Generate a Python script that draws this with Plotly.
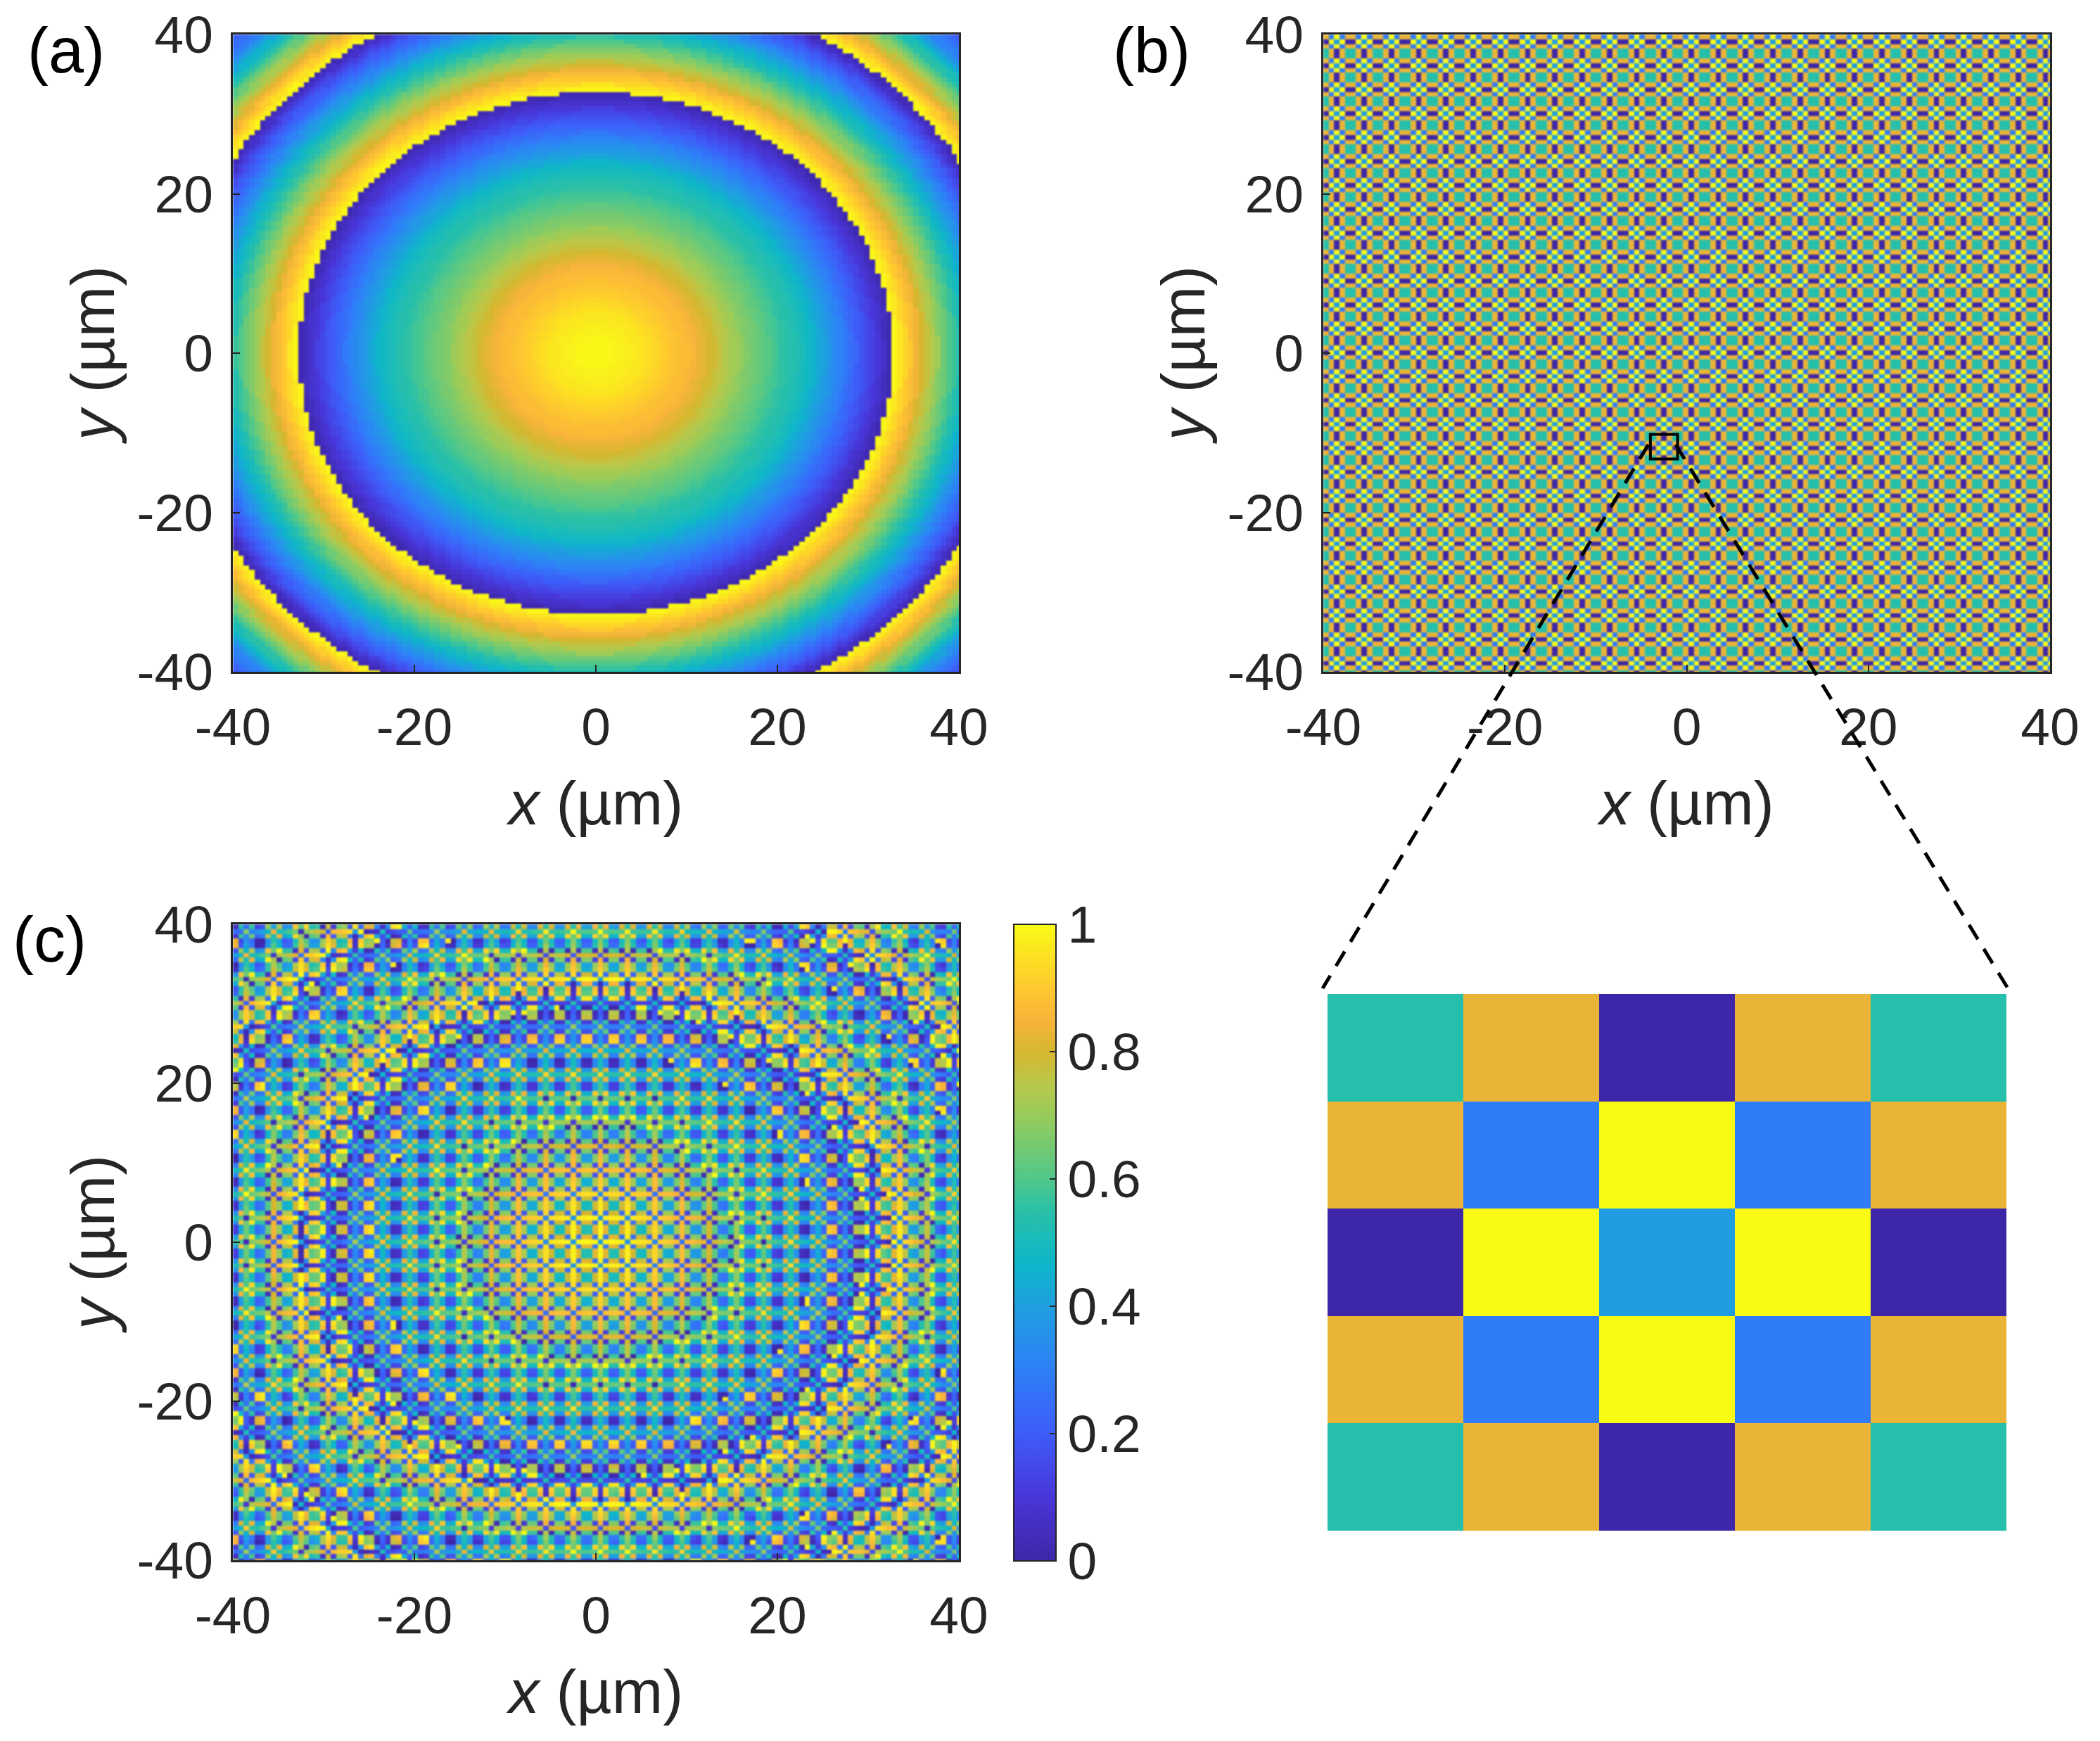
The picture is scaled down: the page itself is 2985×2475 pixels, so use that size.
import plotly.graph_objects as go

W, H = 2985, 2475
ML, MR, MT, MB = 90, 30, 20, 20
PW, PH = W - ML - MR, H - MT - MB

# Phase value, one entry per 0.5 um of radius from the centre.
RADIAL_PHASE = [
    .99, .99, .99, .99, .99,
    .98, .98, .97, .97, .96, .96, .95, .94, .93, .92, .91, .90, .89, .88, .87, .87, .86, .85,
    .83, .82, .80, .79, .77, .76, .74, .72, .71, .69, .67, .66,
    .65, .63, .62, .61, .59, .58,
    .56, .55, .54, .53, .51, .50,
    .48, .46, .43, .41, .38, .36,
    .33, .31, .28, .25, .23, .20,
    .18, .15, .13, .10, .08, .05, .02,
    .99, .96, .93, .90, .87, .84, .80, .77, .74, .71, .67, .64, .60, .57, .53, .50,
    .46, .43, .39, .35, .31, .27, .23, .20, .16, .12, .07, .03,
    .99, .95, .91, .87, .82, .78, .73, .69, .64, .60, .55, .51, .46, .41, .36, .31,
    .28, .25, .22, .19, .16, .13, .10,
]

# Colours of the five-by-five enlarged cell in the inset, read against the colour bar.
TEAL, ORANGE, INDIGO, BLUE, YELLOW, CYAN = .54, .83, 0.0, .285, 1.0, .39
UNIT_CELL = [
    [TEAL, ORANGE, INDIGO, ORANGE, TEAL],
    [ORANGE, BLUE, YELLOW, BLUE, ORANGE],
    [INDIGO, YELLOW, CYAN, YELLOW, INDIGO],
    [ORANGE, BLUE, YELLOW, BLUE, ORANGE],
    [TEAL, ORANGE, INDIGO, ORANGE, TEAL],
]
PIXEL_UM = 0.6
N_PIXELS = 134
TICKS = [-40, -20, 0, 20, 40]
CBAR_TICKS = [0, .2, .4, .6, .8, 1]
CBAR_LABELS = ["0", "0.2", "0.4", "0.6", "0.8", "1"]
COLORS = [
    [0, "#3e26a8"], [.1, "#4836d8"], [.2, "#3e5cf8"], [.3, "#2e80f8"], [.4, "#1f9fe0"],
    [.47, "#0db7c8"], [.55, "#2ac0a8"], [.6, "#50c88a"], [.7, "#98cc5a"], [.75, "#b9c84a"],
    [.8, "#d6b72f"], [.85, "#f8b43a"], [.9, "#ffc82f"], [1, "#f9fb15"],
]

xs = [-40 + PIXEL_UM * (i + .5) for i in range(N_PIXELS)]
ys = [40 - PIXEL_UM * (r + .5) for r in range(N_PIXELS)]


def lookup_radial(x, y):
    k = round((x * x + y * y) ** .5 / .5)
    return RADIAL_PHASE[min(k, len(RADIAL_PHASE) - 1)]


z_a = [[lookup_radial(x, y) for x in xs] for y in ys]
z_b = [[UNIT_CELL[(r + 1) % 5][i % 5] for i in range(N_PIXELS)] for r in range(N_PIXELS)]
z_c = [[(p + q) % 1 for p, q in zip(ra, rb)] for ra, rb in zip(z_a, z_b)]


def fx(px):
    return (px - ML) / PW


def fy(py):
    return 1 - (py - MT) / PH


def dom_x(a, b):
    return [fx(a), fx(b)]


def dom_y(top, bottom):
    return [fy(bottom), fy(top)]


FONT = "Liberation Sans, Arial, sans-serif"
INK = "#262626"
TICK_SIZE = 75
TITLE_SIZE = 87

fig = go.Figure()
common = dict(zmin=0, zmax=1, colorscale=COLORS, hoverinfo="skip")
fig.add_trace(go.Heatmap(x=xs, y=ys, z=z_a, showscale=False, xaxis="x", yaxis="y", **common))
fig.add_trace(go.Heatmap(x=xs, y=ys, z=z_b, showscale=False, xaxis="x2", yaxis="y2", **common))
fig.add_trace(go.Heatmap(
    x=xs, y=ys, z=z_c, xaxis="x3", yaxis="y3", showscale=True,
    colorbar=dict(
        x=fx(1441), xanchor="left", xpad=0, ypad=0, y=fy(1314), yanchor="top",
        len=905 / PH, lenmode="fraction", thickness=60, thicknessmode="pixels",
        outlinecolor=INK, outlinewidth=2, ticks="inside", ticklen=10, tickwidth=2,
        tickcolor=INK, tickvals=CBAR_TICKS, ticktext=CBAR_LABELS,
        tickfont=dict(family=FONT, size=TICK_SIZE, color=INK),
    ), **common))
fig.add_trace(go.Heatmap(
    z=UNIT_CELL[::-1], showscale=False, xaxis="x4", yaxis="y4", **common))

axis_common = dict(
    range=[-40, 40], tickvals=TICKS, ticktext=[str(t) for t in TICKS], ticks="inside",
    ticklen=10, tickwidth=2, tickcolor=INK, showline=True, mirror=True, linecolor=INK,
    linewidth=3, showgrid=False, zeroline=False,
    tickfont=dict(family=FONT, size=TICK_SIZE, color=INK),
)


def xaxis(dom, anchor):
    return dict(axis_common, domain=dom, anchor=anchor, ticklabelstandoff=11,
                title=dict(text="<i>x</i> (µm)", standoff=38,
                           font=dict(family=FONT, size=TITLE_SIZE, color=INK)))


def yaxis(dom, anchor):
    return dict(axis_common, domain=dom, anchor=anchor, ticklabelstandoff=10,
                title=dict(text="<i>y</i> (µm)", standoff=4,
                           font=dict(family=FONT, size=TITLE_SIZE, color=INK)))


hidden = dict(visible=False, showgrid=False, zeroline=False)
fig.update_layout(
    width=W, height=H, margin=dict(l=ML, r=MR, t=MT, b=MB, pad=0, autoexpand=False),
    paper_bgcolor="white", plot_bgcolor="white", showlegend=False,
    xaxis=xaxis(dom_x(331, 1363), "y"), yaxis=yaxis(dom_y(49, 955), "x"),
    xaxis2=xaxis(dom_x(1881, 2914), "y2"), yaxis2=yaxis(dom_y(49, 955), "x2"),
    xaxis3=xaxis(dom_x(331, 1363), "y3"), yaxis3=yaxis(dom_y(1314, 2218), "x3"),
    xaxis4=dict(hidden, domain=dom_x(1887, 2852), anchor="y4", range=[-.5, 4.5]),
    yaxis4=dict(hidden, domain=dom_y(1413, 2176), anchor="x4", range=[-.5, 4.5]),
)

for text, x, y in [("(a)", 94, 72), ("(b)", 1637, 72), ("(c)", 70, 1336)]:
    fig.add_annotation(text=text, x=fx(x), y=fy(y), xref="paper", yref="paper",
                       xanchor="center", yanchor="middle", showarrow=False,
                       font=dict(family=FONT, size=90, color="black"))

# Zoom box in panel (b) and the dashed lines that lead to the inset.
fig.add_shape(type="rect", xref="x2", yref="y2", x0=-4, x1=-1, y0=-13.3, y1=-10.2,
              line=dict(color="black", width=4))
for x0, x1 in [(2343, 1880), (2382, 2854)]:
    fig.add_shape(type="line", xref="paper", yref="paper",
                  x0=fx(x0), x1=fx(x1), y0=fy(632), y1=fy(1405),
                  line=dict(color="black", width=5, dash="24px,16px"))

# The reference is a slightly soft raster: soften the three dense maps the same way.
SOFTEN = """
document.body.style.margin='0';
var maps = document.querySelectorAll('.hm image');
for (var i = 0; i < 3 && i < maps.length; i++) { maps[i].style.filter = 'blur(1.3px)'; }
"""
fig.write_html("out.html", config={"displayModeBar": False}, post_script=SOFTEN)
